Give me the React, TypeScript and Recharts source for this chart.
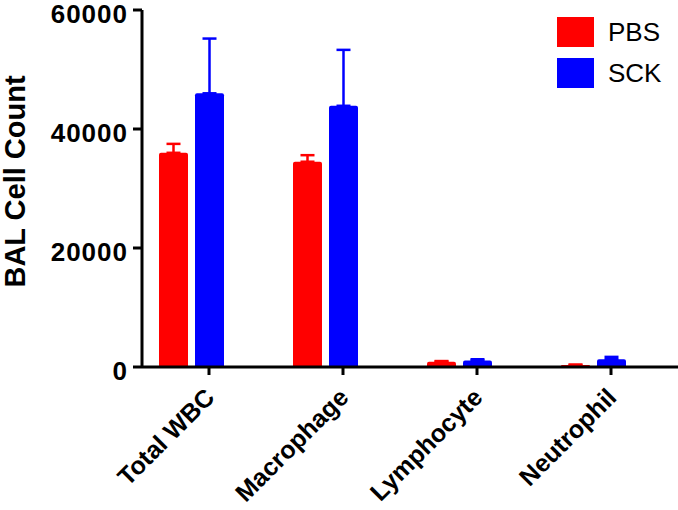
import {
  BarChart,
  Bar,
  XAxis,
  YAxis,
  ErrorBar,
} from "recharts";

const categories = ["Total WBC", "Macrophage", "Lymphocyte", "Neutrophil"];
const pbsMean = [36000, 34500, 900, 350];
const pbsSem = [1500, 1100, 100, 50];
const sckMean = [46000, 43900, 1100, 1300];
const sckSem = [9200, 9400, 200, 400];
// empty third slot so the tick sits under the SCK bar, like the original
const spacer = [0, 0, 0, 0];
const yTicks = [0, 20000, 40000, 60000];

const data = categories.map((name, i) => ({
  name,
  pbs: pbsMean[i],
  pbsErr: [0, pbsSem[i]],
  sck: sckMean[i],
  sckErr: [0, sckSem[i]],
  pad: spacer[i],
}));

const FONT = "'Liberation Sans', Arial, Helvetica, sans-serif";
const RED = "#ff0000";
const BLUE = "#0000ff";

function XTick({ x, y, payload }: any) {
  return (
    <g transform={`translate(${x + 7},${y + 24})`}>
      <text
        x={0}
        y={0}
        textAnchor="end"
        transform="rotate(-45)"
        fontFamily={FONT}
        fontWeight="bold"
        fontSize={25}
        fill="#000"
      >
        {payload.value}
      </text>
    </g>
  );
}

function YTick({ x, y, payload }: any) {
  return (
    <text
      x={x}
      y={y + 13}
      textAnchor="end"
      fontFamily={FONT}
      fontWeight="bold"
      fontSize={26}
      letterSpacing={1}
      fill="#000"
    >
      {payload.value}
    </text>
  );
}

function YLabel({ viewBox }: any) {
  const cx = 25;
  const cy = viewBox.y + viewBox.height / 2 - 7;
  return (
    <text
      x={cx}
      y={cy}
      textAnchor="middle"
      transform={`rotate(-90, ${cx}, ${cy})`}
      fontFamily={FONT}
      fontWeight="bold"
      fontSize={29}
      fill="#000"
    >
      BAL Cell Count
    </text>
  );
}

const legendItems = [
  { label: "PBS", color: RED },
  { label: "SCK", color: BLUE },
];

function LegendBox() {
  return (
    <div
      style={{
        position: "absolute",
        left: 557,
        top: 17,
        display: "flex",
        flexDirection: "column",
        gap: 11,
      }}
    >
      {legendItems.map((it) => (
        <div key={it.label} style={{ display: "flex", alignItems: "center", height: 30 }}>
          <div style={{ width: 37, height: 30, background: it.color }} />
          <span
            style={{
              marginLeft: 14,
              fontFamily: FONT,
              fontSize: 26,
              lineHeight: "30px",
              color: "#000",
            }}
          >
            {it.label}
          </span>
        </div>
      ))}
    </div>
  );
}

export default function App() {
  return (
    <div style={{ position: "absolute", left: 0, top: 0, width: 678, height: 510, background: "#fff" }}>
      <BarChart
        width={678}
        height={510}
        data={data}
        margin={{ top: 10, right: 0, bottom: 0, left: 0 }}
        barSize={29}
        barGap={7}
      >
        <XAxis
          dataKey="name"
          height={143}
          interval={0}
          axisLine={{ stroke: "#000", strokeWidth: 3 }}
          tickLine={{ stroke: "#000", strokeWidth: 3 }}
          tickSize={8}
          tickMargin={0}
          tick={<XTick />}
        />
        <YAxis
          width={142}
          domain={[0, 60000]}
          ticks={yTicks}
          axisLine={{ stroke: "#000", strokeWidth: 3 }}
          tickLine={{ stroke: "#000", strokeWidth: 3 }}
          tickSize={9}
          tickMargin={5}
          tick={<YTick />}
          label={<YLabel />}
        />
        <Bar dataKey="pbs" fill={RED} radius={[2, 2, 0, 0]} isAnimationActive={false}>
          <ErrorBar dataKey="pbsErr" width={7} stroke={RED} strokeWidth={2.5} direction="y" />
        </Bar>
        <Bar dataKey="sck" fill={BLUE} radius={[2, 2, 0, 0]} isAnimationActive={false}>
          <ErrorBar dataKey="sckErr" width={7} stroke={BLUE} strokeWidth={2.5} direction="y" />
        </Bar>
        <Bar dataKey="pad" fill="transparent" legendType="none" isAnimationActive={false} />
      </BarChart>
      <LegendBox />
    </div>
  );
}
